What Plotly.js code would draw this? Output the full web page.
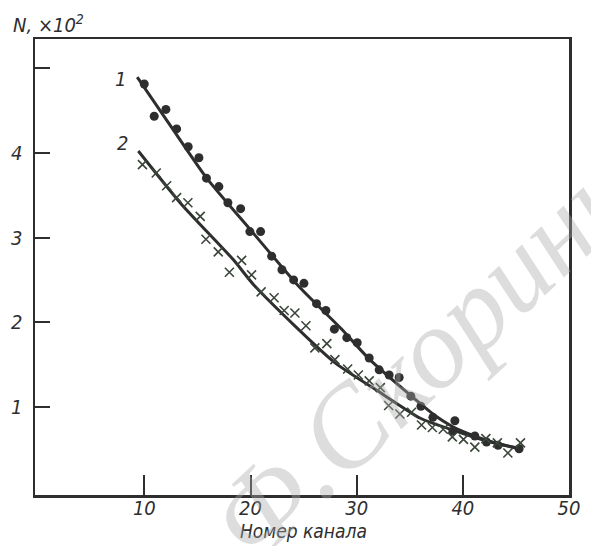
<!DOCTYPE html>
<html>
<head>
<meta charset="utf-8">
<script src="https://cdn.plot.ly/plotly-3.0.1.min.js"></script>
<style>html,body{margin:0;padding:0;background:#fff;}#chart{width:591px;height:546px;}</style>
</head>
<body>
<div id="chart"></div>
<script>
// Series 1 (dots)
const s1X = [9.99, 10.93, 12.03, 13.04, 14.13, 15.14, 15.85, 17.02, 17.87, 19.07, 19.94, 20.95, 21.99, 22.96, 24.06, 25.03, 26.22, 27.10, 27.90, 29.07, 30.05, 31.18, 32.12, 33.06, 34.00, 35.10, 36.05, 37.18, 39.06, 39.25, 41.13, 42.23, 43.32, 45.30];
const s1Y = [4.81, 4.43, 4.51, 4.28, 4.07, 3.94, 3.70, 3.60, 3.41, 3.34, 3.07, 3.07, 2.78, 2.62, 2.50, 2.46, 2.22, 2.14, 1.92, 1.82, 1.76, 1.58, 1.44, 1.38, 1.35, 1.13, 1.01, 0.88, 0.72, 0.84, 0.66, 0.59, 0.55, 0.51];
// Series 2 (crosses)
const s2X = [9.82, 11.12, 12.10, 13.04, 14.10, 15.26, 15.80, 16.96, 18.01, 19.16, 20.10, 21.00, 22.22, 23.17, 24.18, 25.22, 26.06, 27.19, 27.95, 29.15, 30.16, 31.18, 32.23, 33.01, 34.07, 35.17, 36.11, 37.13, 38.15, 39.01, 40.06, 41.13, 42.17, 43.25, 44.24, 45.43];
const s2Y = [3.86, 3.76, 3.61, 3.47, 3.41, 3.25, 2.98, 2.83, 2.59, 2.73, 2.56, 2.36, 2.29, 2.14, 2.11, 1.96, 1.70, 1.75, 1.56, 1.45, 1.38, 1.31, 1.23, 1.02, 0.92, 0.94, 0.79, 0.76, 0.74, 0.65, 0.62, 0.53, 0.63, 0.58, 0.46, 0.58];
// Fitted curves
const fit1X = [9.33, 12.5, 15.87, 20.0, 24.65, 28.5, 31.24, 34.5, 37.18, 39.06, 41.13, 43.3, 45.37];
const fit1Y = [4.89, 4.31, 3.70, 3.09, 2.41, 1.93, 1.56, 1.20, 0.92, 0.77, 0.66, 0.57, 0.51];
const fit2X = [9.43, 13.51, 18.37, 20.25, 24.0, 28.0, 32.0, 36.0, 39.06, 42.0, 45.37];
const fit2Y = [4.02, 3.39, 2.74, 2.45, 1.98, 1.52, 1.19, 0.87, 0.73, 0.61, 0.51];
// Axis ticks
const xTicks = [10, 20, 30, 40, 50];
const yTicks = [1, 2, 3, 4];
const yMinorTicks = [5];

const ink = '#2e2e2e';
const fnt = {family: 'DejaVu Sans Condensed, DejaVu Sans, sans-serif', size: 20, color: ink, style: 'italic'};
const tfnt = {family: 'DejaVu Sans Condensed, DejaVu Sans, sans-serif', size: 19, color: ink, style: 'italic'};

const traces = [
  {x: fit1X, y: fit1Y, mode: 'lines', line: {color: ink, width: 3, shape: 'spline', smoothing: 0.6}, hoverinfo: 'skip'},
  {x: fit2X, y: fit2Y, mode: 'lines', line: {color: ink, width: 3, shape: 'spline', smoothing: 0.6}, hoverinfo: 'skip'},
  {x: s1X, y: s1Y, mode: 'markers', marker: {symbol: 'circle', size: 9, color: ink}},
  {x: s2X, y: s2Y, mode: 'markers', marker: {symbol: 'x-thin', size: 9, line: {color: '#3b463b', width: 1.6}}}
];

const layout = {
  width: 591, height: 546,
  margin: {l: 35, r: 22, t: 39, b: 51},
  paper_bgcolor: '#ffffff', plot_bgcolor: '#ffffff',
  showlegend: false,
  font: fnt,
  xaxis: {
    range: [-0.3, 50], tickvals: xTicks, ticks: 'inside', ticklen: 20, tickwidth: 2, tickcolor: ink,
    showline: true, mirror: true, linecolor: ink, linewidth: 2.5, showgrid: false, zeroline: false,
    tickfont: fnt, ticklabelstandoff: -7
  },
  yaxis: {
    range: [-0.035, 5.34], tickvals: yTicks, ticks: 'inside', ticklen: 15, tickwidth: 2, tickcolor: ink,
    minor: {tickvals: yMinorTicks, ticks: 'inside', ticklen: 15, tickwidth: 2, tickcolor: ink, showgrid: false},
    showline: true, mirror: true, linecolor: ink, linewidth: 2.5, showgrid: false, zeroline: false,
    tickfont: fnt, ticklabelstandoff: 6
  },
  annotations: [
    {xref: 'paper', yref: 'paper', x: -0.045, y: 1.033, xanchor: 'left', yanchor: 'middle', showarrow: false, text: 'N, ×10<sup>2</sup>', font: fnt},
    {xref: 'paper', yref: 'paper', x: 0.502, y: -0.079, xanchor: 'center', yanchor: 'middle', showarrow: false, text: 'Номер канала', font: tfnt},
    {xref: 'x', yref: 'y', x: 7.8, y: 4.87, showarrow: false, text: '1', font: fnt},
    {xref: 'x', yref: 'y', x: 7.9, y: 4.11, showarrow: false, text: '2', font: fnt},
    {xref: 'paper', yref: 'paper', x: 0.74, y: 0.32, xanchor: 'center', yanchor: 'middle', showarrow: false, text: 'Ф.Скорины', textangle: -43,
     font: {family: 'Liberation Serif, DejaVu Serif, serif', size: 115, color: 'rgba(170,170,170,0.4)'}}
  ]
};

Plotly.newPlot('chart', traces, layout, {staticPlot: true});
</script>
</body>
</html>
